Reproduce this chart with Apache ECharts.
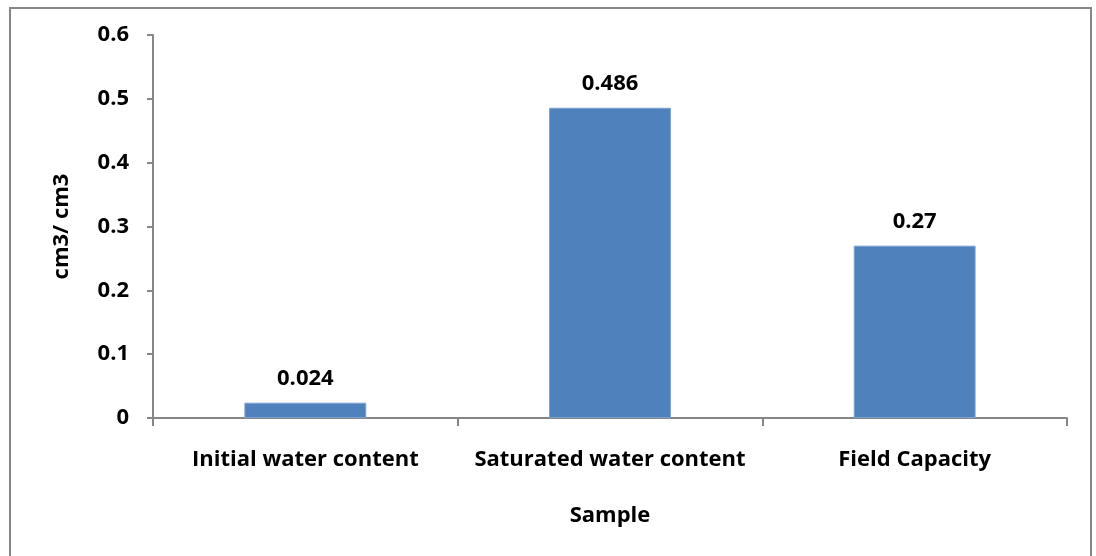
<!DOCTYPE html>
<html>
<head>
<meta charset="utf-8">
<script src="https://cdn.jsdelivr.net/npm/echarts@6/dist/echarts.min.js"></script>
<style>
  html, body { margin: 0; padding: 0; background: #fff; }
  #frame { position: absolute; left: 9px; top: 7px; width: 1083px; height: 560px; border: 2px solid #868686; box-sizing: border-box; }
  #chart { position: absolute; left: 0; top: 0; width: 1096px; height: 556px; }
</style>
</head>
<body>
<div id="frame"></div>
<div id="chart"></div>
<script>
// Soil water content measurements
const categories = ['Initial water content', 'Saturated water content', 'Field Capacity'];
const values = [0.024, 0.486, 0.27];
const yTicks = [0, 0.1, 0.2, 0.3, 0.4, 0.5, 0.6];

const FONT = 'Open Sans';
const SIZE = 22;
const chart = echarts.init(document.getElementById('chart'));
chart.setOption({
  animation: false,
  grid: { left: 153, right: 29, top: 35, bottom: 138 },
  xAxis: {
    type: 'category',
    data: categories,
    name: 'Sample',
    nameLocation: 'middle',
    nameGap: 87,
    nameTextStyle: { fontFamily: FONT, fontWeight: 'bold', fontSize: SIZE, color: '#000' },
    axisLine: { lineStyle: { color: '#868686', width: 2 } },
    axisTick: { show: true, length: 8, lineStyle: { color: '#868686', width: 2 } },
    axisLabel: {
      interval: 0, hideOverlap: false, margin: 31,
      fontFamily: FONT, fontWeight: 'bold', fontSize: SIZE, color: '#000'
    }
  },
  yAxis: {
    type: 'value',
    min: 0,
    max: yTicks[yTicks.length - 1],
    interval: 0.1,
    name: 'cm3/ cm3',
    nameLocation: 'middle',
    nameGap: 80,
    nameTextStyle: { fontFamily: FONT, fontWeight: 'bold', fontSize: SIZE, color: '#000' },
    splitLine: { show: false },
    axisLine: { show: true, lineStyle: { color: '#868686', width: 2 } },
    axisTick: { show: true, length: 6, lineStyle: { color: '#868686', width: 2 } },
    axisLabel: {
      margin: 24, fontFamily: FONT, fontWeight: 'bold', fontSize: SIZE, color: '#000',
      formatter: v => String(Math.round(v * 10) / 10)
    }
  },
  series: [{
    type: 'bar',
    data: values,
    barWidth: '40%',
    itemStyle: { color: '#4F81BD', borderColor: '#7DA2D2', borderWidth: 1 },
    label: {
      show: true, position: 'top', distance: 13,
      fontFamily: FONT, fontWeight: 'bold', fontSize: SIZE, color: '#000',
      formatter: p => String(p.value)
    }
  }]
});
</script>
</body>
</html>
